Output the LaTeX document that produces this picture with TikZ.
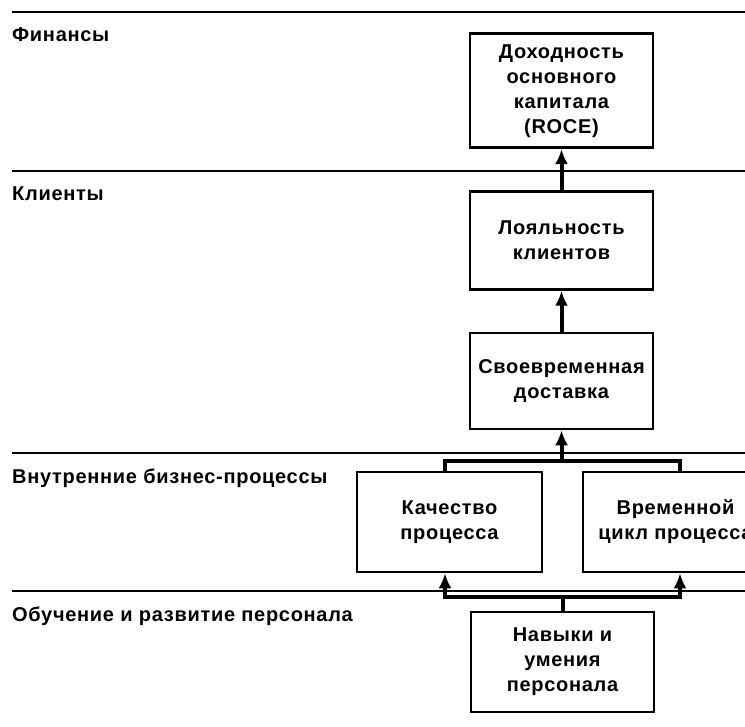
\documentclass[tikz,border=0pt]{standalone}
\usepackage{fontspec}
\setmainfont[LetterSpace=3.5]{Liberation Sans}
\usetikzlibrary{positioning,arrows.meta}
\tikzset{
	block/.style={
		rectangle,
		draw=black, line width=2.6pt,
		minimum width=183pt,
		minimum height=96pt,
		inner sep=2pt,
		align=center,
		font=\fontsize{20}{25}\selectfont\bfseries,
	},
	layer/.style={anchor=base west, inner sep=0pt, font=\fontsize{20}{25}\selectfont\bfseries},
	divider/.style={line width=2.6pt},
	joint/.style={line width=4pt},
	link/.style={line width=4pt, -{Latex[length=15pt,width=13pt]}},
}

\begin{document}
\begin{tikzpicture}[x=1pt,y=-1pt,node distance=41pt]
\useasboundingbox (0,0) rectangle (745,727);
\clip (0,0) rectangle (745,727);

% perspective bands
\foreach \y in {12,171,453,591}
	\draw[divider] (12,\y) -- (745,\y);
\node	(fin)	[layer]	at (12,42)	{Финансы};
\node	(cli)	[layer]	at (12,201)	{Клиенты};
\node	(proc)	[layer]	at (12,483)	{Внутренние бизнес-процессы};
\node	(learn)	[layer]	at (12,621)	{Обучение и развитие персонала};

% goals
\node	(ontime)	[block]	at (561.5,381)	{Своевременная\\доставка};
\node	(loyal)		[block, minimum height=98pt]	[above=of ontime]	{Лояльность\\клиентов};
\node	(roce)		[block, minimum height=114pt]	[above=of loyal]	{Доходность\\основного\\капитала\\(ROCE)};
\node	(quality)	[block, minimum width=185pt, minimum height=100pt]	at (449.5,522)	{Качество\\процесса};
\node	(cycle)		[block, minimum width=185pt, minimum height=100pt]	at (675.5,522)	{Временной\\цикл процесса};
\node	(skills)	[block, minimum height=100pt]	at (562.5,662)	{Навыки и\\умения\\персонала};

\coordinate (top join) at (561.5,461);
\coordinate (low join) at (562.5,597);

\draw[link] (loyal) -- (roce);
\draw[link] (ontime) -- (loyal);
\draw[joint] ([xshift=-4.5pt]quality.north) |- (top join) -| ([xshift=4.5pt]cycle.north);
\draw[link] (top join) -- (ontime);
\draw[joint] (skills) -- (low join);
\draw[link] (low join) -| ([xshift=-4.5pt]quality.south);
\draw[link] (low join) -| ([xshift=4.5pt]cycle.south);

\end{tikzpicture}
\end{document}
